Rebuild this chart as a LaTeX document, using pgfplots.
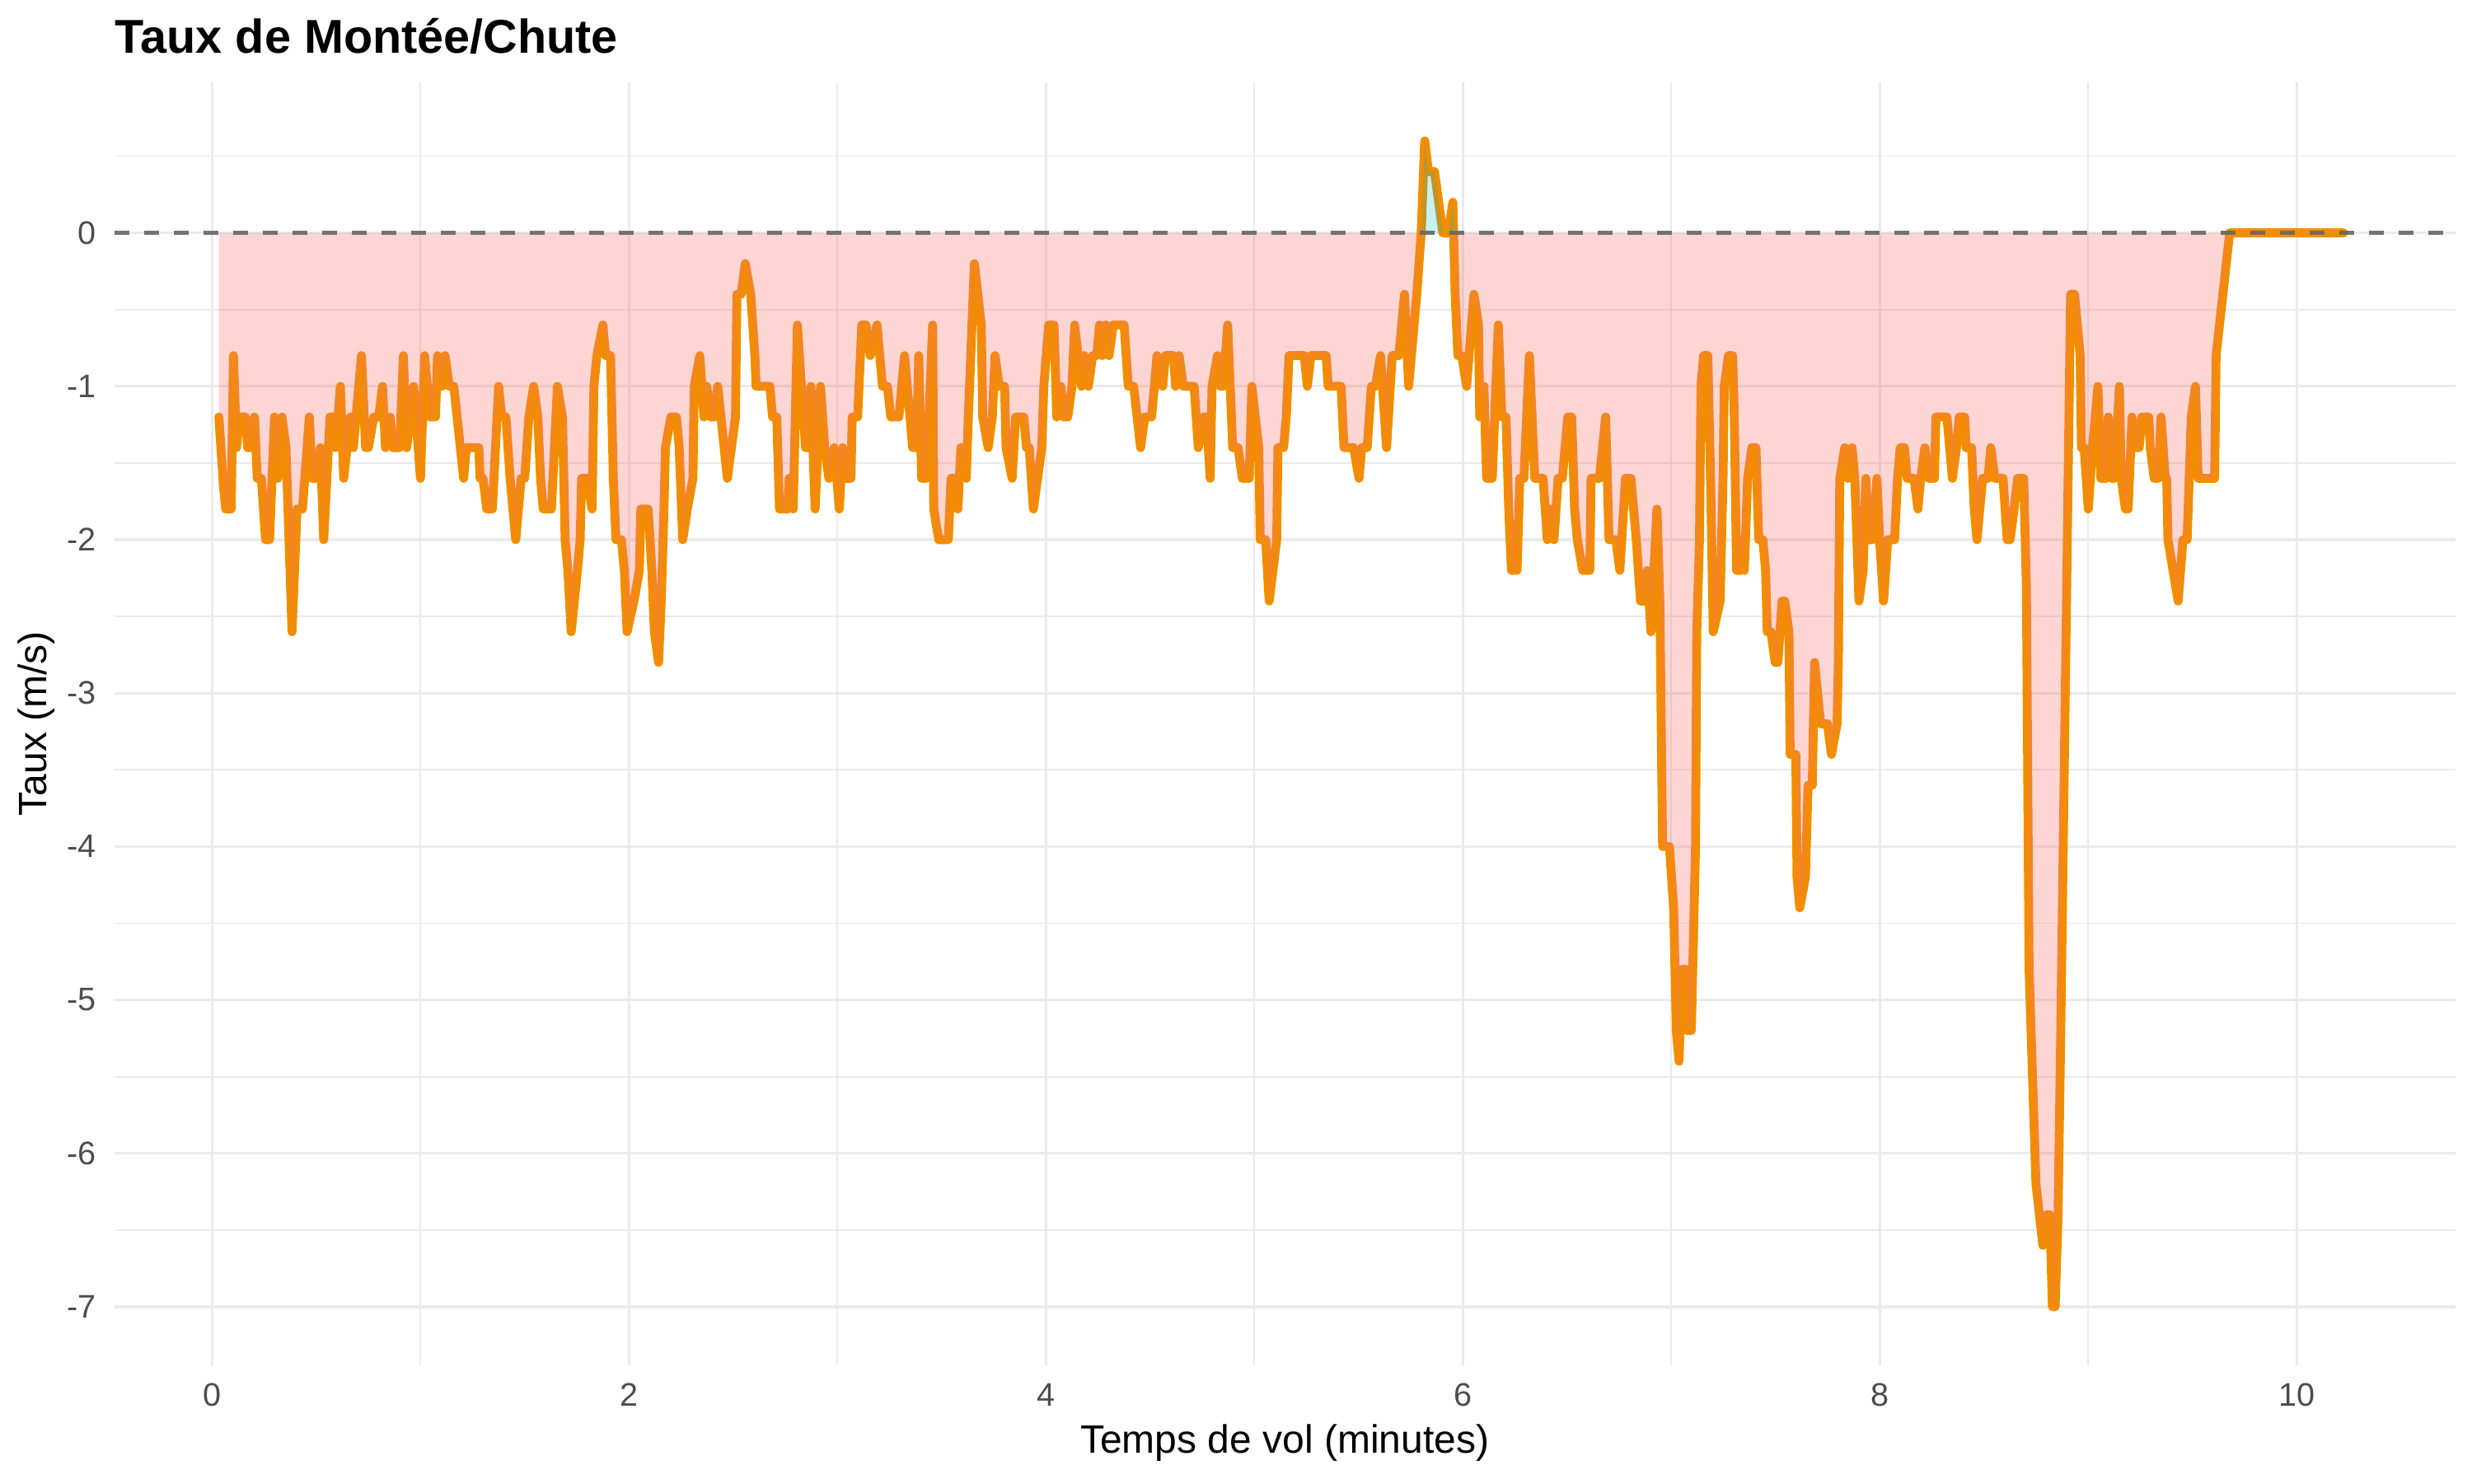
\documentclass[border=0pt]{standalone}
\usepackage{fontspec}
\setmainfont{Liberation Sans}
\usepackage{pgfplots}
\pgfplotsset{compat=1.18}
\usepackage{pgfplotstable}
\definecolor{linec}{RGB}{243,141,0}
\definecolor{negc}{RGB}{248,118,109}
\definecolor{posc}{RGB}{0,191,196}
\definecolor{gridc}{RGB}{235,235,235}
\definecolor{tickc}{RGB}{77,77,77}
\pgfplotstableread{
t v
0.033 -1.2
0.055 -1.65
0.066 -1.8
0.092 -1.8
0.103 -0.8
0.118 -1.4
0.130 -1.2
0.160 -1.2
0.171 -1.4
0.183 -1.4
0.204 -1.2
0.217 -1.6
0.237 -1.6
0.257 -2.0
0.276 -2.0
0.300 -1.2
0.316 -1.6
0.336 -1.2
0.355 -1.4
0.384 -2.6
0.408 -1.8
0.434 -1.8
0.467 -1.2
0.480 -1.6
0.500 -1.6
0.520 -1.4
0.536 -2.0
0.566 -1.2
0.579 -1.2
0.592 -1.4
0.616 -1.0
0.632 -1.6
0.664 -1.2
0.678 -1.4
0.717 -0.8
0.737 -1.4
0.750 -1.4
0.776 -1.2
0.800 -1.2
0.818 -1.0
0.832 -1.4
0.855 -1.2
0.868 -1.4
0.900 -1.4
0.918 -0.8
0.934 -1.4
0.967 -1.0
1.000 -1.6
1.020 -0.8
1.046 -1.2
1.072 -1.2
1.082 -0.8
1.103 -1.0
1.118 -0.8
1.138 -1.0
1.160 -1.0
1.207 -1.6
1.220 -1.4
1.280 -1.4
1.286 -1.6
1.300 -1.6
1.318 -1.8
1.345 -1.8
1.375 -1.0
1.390 -1.2
1.410 -1.2
1.430 -1.6
1.457 -2.0
1.483 -1.6
1.500 -1.6
1.520 -1.2
1.543 -1.0
1.563 -1.2
1.576 -1.6
1.589 -1.8
1.628 -1.8
1.657 -1.0
1.681 -1.2
1.694 -2.0
1.707 -2.2
1.723 -2.6
1.753 -2.2
1.766 -2.0
1.773 -1.6
1.800 -1.6
1.823 -1.8
1.832 -1.0
1.846 -0.8
1.875 -0.6
1.888 -0.8
1.912 -0.8
1.925 -1.6
1.938 -2.0
1.964 -2.0
1.978 -2.2
1.991 -2.6
2.024 -2.4
2.050 -2.2
2.057 -1.8
2.092 -1.8
2.110 -2.2
2.122 -2.6
2.142 -2.8
2.155 -2.4
2.168 -1.8
2.175 -1.4
2.201 -1.2
2.228 -1.2
2.241 -1.4
2.258 -2.0
2.280 -1.8
2.307 -1.6
2.313 -1.0
2.340 -0.8
2.360 -1.2
2.373 -1.0
2.393 -1.2
2.410 -1.2
2.426 -1.0
2.472 -1.6
2.511 -1.2
2.518 -0.4
2.538 -0.4
2.558 -0.2
2.584 -0.4
2.604 -0.8
2.610 -1.0
2.676 -1.0
2.689 -1.2
2.709 -1.2
2.722 -1.8
2.762 -1.8
2.768 -1.6
2.788 -1.8
2.808 -0.6
2.847 -1.4
2.860 -1.4
2.873 -1.0
2.893 -1.8
2.919 -1.0
2.939 -1.4
2.959 -1.6
2.985 -1.4
3.009 -1.8
3.025 -1.4
3.038 -1.6
3.065 -1.6
3.071 -1.2
3.097 -1.2
3.117 -0.6
3.137 -0.6
3.157 -0.8
3.190 -0.6
3.216 -1.0
3.240 -1.0
3.256 -1.2
3.295 -1.2
3.322 -0.8
3.361 -1.4
3.380 -1.4
3.390 -0.8
3.404 -1.6
3.427 -1.6
3.457 -0.6
3.462 -1.8
3.486 -2.0
3.532 -2.0
3.545 -1.6
3.565 -1.6
3.578 -1.8
3.592 -1.4
3.618 -1.6
3.628 -1.2
3.657 -0.2
3.690 -0.6
3.697 -1.2
3.723 -1.4
3.743 -1.2
3.756 -0.8
3.776 -1.0
3.802 -1.0
3.809 -1.4
3.838 -1.6
3.855 -1.2
3.894 -1.2
3.907 -1.4
3.920 -1.4
3.940 -1.8
3.980 -1.4
3.990 -1.0
4.013 -0.6
4.039 -0.6
4.052 -1.2
4.072 -1.0
4.085 -1.2
4.105 -1.2
4.125 -1.0
4.138 -0.6
4.171 -1.0
4.184 -0.8
4.204 -1.0
4.224 -0.8
4.244 -0.8
4.257 -0.6
4.270 -0.8
4.287 -0.6
4.303 -0.8
4.323 -0.6
4.375 -0.6
4.395 -1.0
4.421 -1.0
4.454 -1.4
4.474 -1.2
4.507 -1.2
4.533 -0.8
4.560 -1.0
4.573 -0.8
4.612 -0.8
4.622 -1.0
4.639 -0.8
4.659 -1.0
4.711 -1.0
4.731 -1.4
4.757 -1.2
4.770 -1.2
4.788 -1.6
4.797 -1.0
4.823 -0.8
4.837 -1.0
4.850 -1.0
4.872 -0.6
4.896 -1.4
4.922 -1.4
4.942 -1.6
4.975 -1.6
4.988 -1.0
5.021 -1.4
5.028 -2.0
5.054 -2.0
5.071 -2.4
5.107 -2.0
5.113 -1.4
5.140 -1.4
5.153 -1.2
5.166 -0.8
5.239 -0.8
5.254 -1.0
5.271 -0.8
5.344 -0.8
5.354 -1.0
5.416 -1.0
5.430 -1.4
5.476 -1.4
5.502 -1.6
5.515 -1.4
5.541 -1.4
5.561 -1.0
5.581 -1.0
5.605 -0.8
5.634 -1.4
5.661 -0.8
5.693 -0.8
5.720 -0.4
5.740 -1.0
5.766 -0.6
5.779 -0.4
5.800 0.0
5.817 0.6
5.835 0.4
5.864 0.4
5.884 0.2
5.904 0.0
5.930 0.0
5.952 0.2
5.963 -0.4
5.976 -0.8
5.995 -0.8
6.018 -1.0
6.053 -0.4
6.075 -0.6
6.081 -1.2
6.101 -1.0
6.114 -1.6
6.141 -1.6
6.170 -0.6
6.187 -1.2
6.207 -1.2
6.220 -1.8
6.233 -2.2
6.260 -2.2
6.273 -1.6
6.293 -1.6
6.319 -0.8
6.345 -1.6
6.385 -1.6
6.405 -2.0
6.422 -1.8
6.437 -2.0
6.457 -1.6
6.477 -1.6
6.503 -1.2
6.522 -1.2
6.536 -1.8
6.549 -2.0
6.575 -2.2
6.609 -2.2
6.615 -1.6
6.655 -1.6
6.685 -1.2
6.701 -2.0
6.734 -2.0
6.753 -2.2
6.780 -1.6
6.806 -1.6
6.832 -2.0
6.852 -2.4
6.872 -2.4
6.885 -2.2
6.902 -2.6
6.931 -1.8
6.945 -2.4
6.958 -4.0
6.991 -4.0
7.011 -4.4
7.024 -5.2
7.037 -5.4
7.050 -4.8
7.069 -4.8
7.076 -5.2
7.096 -5.2
7.116 -4.0
7.122 -2.6
7.135 -2.0
7.142 -1.0
7.155 -0.8
7.175 -0.8
7.188 -1.6
7.201 -2.6
7.234 -2.4
7.248 -1.6
7.254 -1.0
7.274 -0.8
7.294 -0.8
7.302 -1.2
7.313 -2.2
7.333 -2.2
7.340 -2.0
7.350 -2.2
7.366 -1.6
7.386 -1.4
7.406 -1.4
7.419 -2.0
7.439 -2.0
7.452 -2.2
7.460 -2.6
7.478 -2.6
7.498 -2.8
7.511 -2.8
7.531 -2.4
7.544 -2.4
7.564 -2.6
7.570 -3.4
7.597 -3.4
7.603 -4.2
7.616 -4.4
7.643 -4.2
7.656 -3.6
7.676 -3.6
7.687 -2.8
7.716 -3.2
7.749 -3.2
7.768 -3.4
7.795 -3.2
7.801 -2.8
7.808 -1.6
7.832 -1.4
7.847 -1.6
7.867 -1.4
7.880 -1.6
7.900 -2.4
7.920 -2.2
7.933 -1.6
7.946 -2.0
7.966 -2.0
7.986 -1.6
7.999 -2.0
8.018 -2.4
8.038 -2.0
8.071 -2.0
8.085 -1.6
8.098 -1.4
8.118 -1.4
8.131 -1.6
8.164 -1.6
8.183 -1.8
8.196 -1.6
8.216 -1.4
8.235 -1.6
8.262 -1.6
8.269 -1.2
8.322 -1.2
8.348 -1.6
8.368 -1.4
8.381 -1.2
8.407 -1.2
8.414 -1.4
8.440 -1.4
8.453 -1.8
8.466 -2.0
8.493 -1.6
8.519 -1.6
8.532 -1.4
8.552 -1.6
8.591 -1.6
8.611 -2.0
8.625 -2.0
8.644 -1.8
8.661 -1.6
8.690 -1.6
8.703 -2.3
8.716 -4.8
8.749 -6.2
8.782 -6.6
8.802 -6.4
8.815 -6.4
8.828 -7.0
8.841 -7.0
8.855 -6.4
8.868 -5.2
8.915 -0.4
8.934 -0.4
8.961 -0.8
8.967 -1.4
8.980 -1.4
9.000 -1.8
9.020 -1.4
9.046 -1.0
9.060 -1.6
9.086 -1.6
9.096 -1.2
9.112 -1.6
9.125 -1.6
9.149 -1.0
9.158 -1.6
9.178 -1.8
9.191 -1.8
9.210 -1.2
9.224 -1.4
9.244 -1.4
9.257 -1.2
9.290 -1.2
9.297 -1.4
9.316 -1.6
9.336 -1.6
9.349 -1.2
9.369 -1.6
9.376 -1.6
9.382 -2.0
9.431 -2.4
9.454 -2.0
9.474 -2.0
9.494 -1.2
9.514 -1.0
9.527 -1.6
9.606 -1.6
9.613 -0.8
9.678 0.0
10.225 0.0
}\ratedata

\begin{document}
\begin{tikzpicture}
\useasboundingbox (0,0) rectangle (500pt,300pt);
\begin{axis}[
  at={(23.1pt,23.9pt)}, anchor=south west,
  scale only axis, width=473.5pt, height=259.4pt,
  xmin=-0.469, xmax=10.76, ymin=-7.38, ymax=0.98,
  xtick={0,2,4,6,8,10}, xticklabels={0,2,4,6,8,10},
  ytick={-7,-6,-5,-4,-3,-2,-1,0}, yticklabels={-7,-6,-5,-4,-3,-2,-1,0},
  minor xtick={1,3,5,7,9},
  minor ytick={-6.5,-5.5,-4.5,-3.5,-2.5,-1.5,-0.5,0.5},
  grid=both,
  major grid style={draw=gridc, line width=0.55pt},
  minor grid style={draw=gridc, line width=0.3pt},
  axis line style={draw=none},
  major tick length=0pt, minor tick length=0pt,
  tick style={draw=none},
  tick label style={font=\fontsize{6.6}{7.5}\selectfont, text=tickc},
  yticklabel style={inner sep=0pt, xshift=-3.5pt},
  xticklabel style={inner sep=0pt, yshift=-3.5pt},
  clip=true,
]
\addplot[linec, line width=1.8pt, line join=round, line cap=round] table[x=t,y=v] {\ratedata};
\addplot[draw=none, fill=negc, fill opacity=0.3] table[x=t, y expr={min(\thisrow{v},0)}] {\ratedata} \closedcycle;
\addplot[draw=none, fill=posc, fill opacity=0.22] table[x=t, y expr={max(\thisrow{v},0)}] {\ratedata} \closedcycle;
\addplot[color=black!60, line width=0.8pt, dash pattern=on 3pt off 3pt, opacity=0.9] coordinates {(-0.469,0) (10.76,0)};
\end{axis}
\node[anchor=base west, font=\bfseries\fontsize{9.6}{11}\selectfont, inner sep=0pt] at (23.1pt,289.2pt) {Taux de Montée/Chute};
\node[anchor=base, font=\fontsize{8}{9.6}\selectfont, inner sep=0pt] at (259.85pt,6.1pt) {Temps de vol (minutes)};
\node[anchor=center, rotate=90, font=\fontsize{8}{9.6}\selectfont, inner sep=0pt] at (7.4pt,153.6pt) {Taux (m/s)};
\end{tikzpicture}
\end{document}
